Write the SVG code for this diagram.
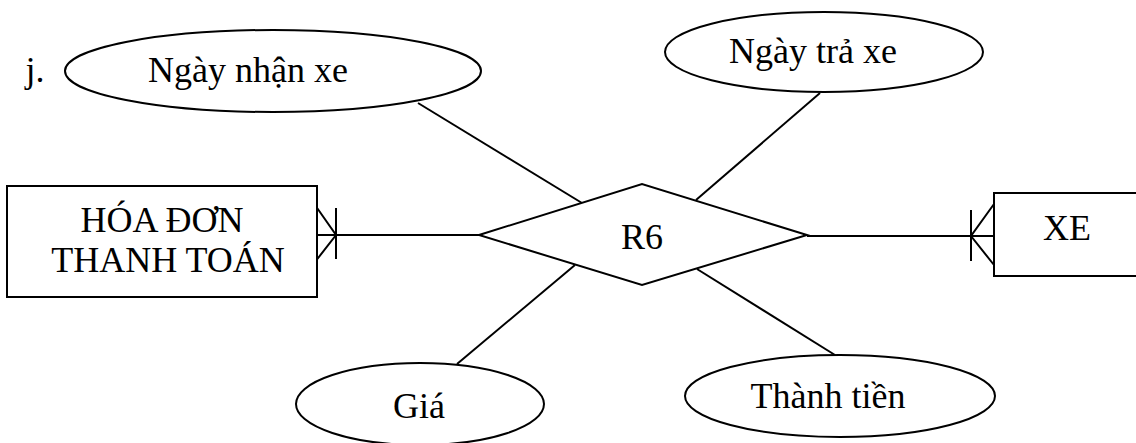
<svg xmlns="http://www.w3.org/2000/svg" width="1136" height="443" viewBox="0 0 1136 443">
  <style>
    .shape { fill: #ffffff; stroke: #000000; stroke-width: 2; }
    .line { fill: none; stroke: #000000; stroke-width: 2; }
    .label { font-family: "Liberation Serif", "Times New Roman", serif; font-size: 36px; fill: #000000; text-anchor: middle; }
  </style>
  <rect width="1136" height="443" fill="#ffffff"/>

  <!-- relationship links and cardinality marks -->
  <g id="connectors">
    <line class="line" x1="317" y1="235" x2="479" y2="235"/>
    <polyline class="line" points="315,205 336,235 315,262"/>
    <line class="line" x1="336" y1="208" x2="336" y2="259"/>
    <line class="line" x1="807" y1="236" x2="994" y2="236"/>
    <polyline class="line" points="994,204 971,236 994,265"/>
    <line class="line" x1="971" y1="210" x2="971" y2="261"/>
    <line class="line" x1="418" y1="103" x2="582" y2="203"/>
    <line class="line" x1="820" y1="93" x2="696" y2="200"/>
    <line class="line" x1="457" y1="364" x2="575" y2="265"/>
    <line class="line" x1="697" y1="269" x2="835" y2="355"/>
  </g>

  <text class="label" x="35" y="82">j.</text>

  <g id="hoa-don-thanh-toan">
    <rect class="shape" x="7" y="186" width="310" height="111"/>
    <text class="label" x="162" y="232">HÓA ĐƠN</text>
    <text class="label" x="168" y="272">THANH TOÁN</text>
  </g>

  <g id="xe">
    <rect class="shape" x="994" y="193" width="150" height="83"/>
    <text class="label" x="1067" y="240">XE</text>
  </g>

  <g id="r6">
    <polygon class="shape" points="479,235 642,184 807,235 642,285"/>
    <text class="label" x="642" y="249">R6</text>
  </g>

  <g id="ngay-nhan-xe">
    <ellipse class="shape" cx="273" cy="71" rx="208" ry="41"/>
    <text class="label" x="248" y="82">Ngày nhận xe</text>
  </g>

  <g id="ngay-tra-xe">
    <ellipse class="shape" cx="824" cy="52" rx="159" ry="40"/>
    <text class="label" x="813" y="63">Ngày trả xe</text>
  </g>

  <g id="gia">
    <ellipse class="shape" cx="420" cy="404" rx="124" ry="41"/>
    <text class="label" x="419" y="418">Giá</text>
  </g>

  <g id="thanh-tien">
    <ellipse class="shape" cx="840" cy="396" rx="155" ry="41"/>
    <text class="label" x="828" y="408">Thành tiền</text>
  </g>
</svg>
